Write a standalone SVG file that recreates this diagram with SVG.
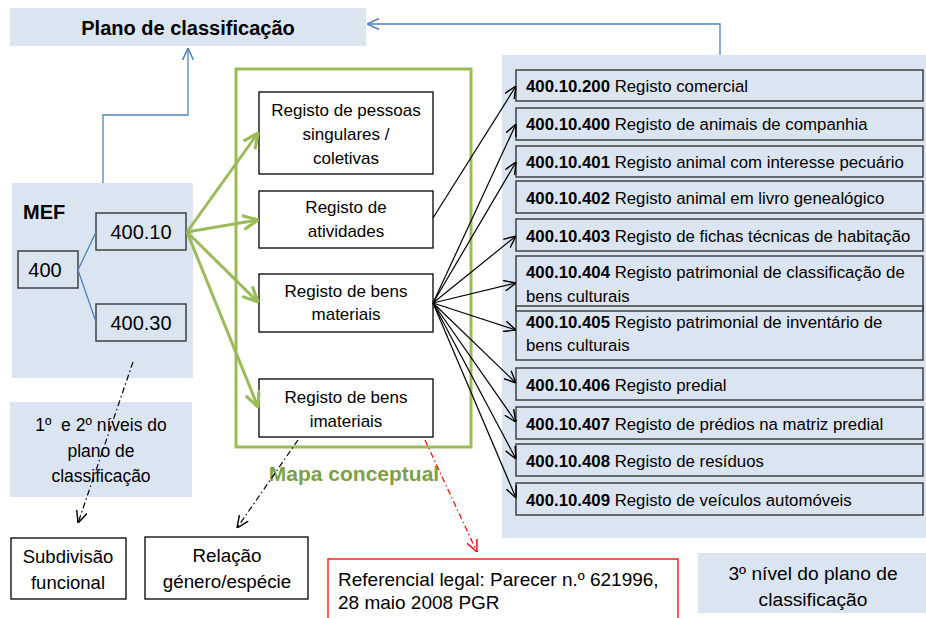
<svg xmlns="http://www.w3.org/2000/svg" width="926" height="618" viewBox="0 0 926 618">
<style>
text{font-family:"Liberation Sans",Arial,sans-serif;fill:#000}
.panel{fill:#dbe5f1}
.box{fill:#fff;stroke:#000;stroke-width:1.3}
.gbox{fill:none;stroke:#404040;stroke-width:1.5}
.mbox{fill:#dbe5f1;stroke:#404040;stroke-width:1.5}
.mid{font-size:17px;text-anchor:middle}
.li{font-size:16.8px}
.b{font-weight:bold}
.blue{fill:none;stroke:#4f81bd;stroke-width:1.3}
.green{fill:none;stroke:#9bbb59;stroke-width:3}
.blk{fill:none;stroke:#000;stroke-width:1.2}
.dd{fill:none;stroke:#000;stroke-width:1.2;stroke-dasharray:6 3 1.5 3}
.rd{fill:none;stroke:#ff0000;stroke-width:1.2;stroke-dasharray:6 3 1.5 3}
</style>
<defs>
<marker id="aBlk" markerUnits="userSpaceOnUse" markerWidth="12" markerHeight="12" viewBox="0 0 10 10" refX="10" refY="5" orient="auto"><path d="M0,0.5 L10,5 L0,9.5" fill="none" stroke="#000" stroke-width="1.2"/></marker>
<marker id="aBlue" markerUnits="userSpaceOnUse" markerWidth="12" markerHeight="12" viewBox="0 0 10 10" refX="10" refY="5" orient="auto"><path d="M0,0.5 L10,5 L0,9.5" fill="none" stroke="#4f81bd" stroke-width="1.3"/></marker>
<marker id="aGreen" markerUnits="userSpaceOnUse" markerWidth="16" markerHeight="16" viewBox="0 0 10 10" refX="9.5" refY="5" orient="auto"><path d="M0,0.5 L9.5,5 L0,9.5" fill="none" stroke="#9bbb59" stroke-width="2"/></marker>
<marker id="aRed" markerUnits="userSpaceOnUse" markerWidth="12" markerHeight="12" viewBox="0 0 10 10" refX="10" refY="5" orient="auto"><path d="M0,0.5 L10,5 L0,9.5" fill="none" stroke="#ff0000" stroke-width="1.2"/></marker>
</defs>

<g id="title">
<rect class="panel" x="10" y="8" width="356" height="38"/>
<text x="188" y="35" font-size="20" font-weight="bold" text-anchor="middle">Plano de classificação</text>
</g>

<g id="mef">
<rect class="panel" x="12" y="183" width="181" height="195"/>
<text x="23" y="219" font-size="20" font-weight="bold">MEF</text>
</g>
<g id="n400"><rect class="mbox" x="18" y="251" width="60" height="37"/><text x="45" y="277" font-size="20" text-anchor="middle">400</text></g>
<g id="n40010"><rect class="mbox" x="96" y="213" width="90" height="37"/><text x="141" y="239" font-size="20" text-anchor="middle">400.10</text></g>
<g id="n40030"><rect class="mbox" x="96" y="304" width="90" height="37"/><text x="141" y="330" font-size="20" text-anchor="middle">400.30</text></g>

<g id="mapa">
<rect x="236" y="69" width="235" height="378" fill="none" stroke="#9bbb59" stroke-width="3"/>
<text x="354" y="481" font-size="21" font-weight="bold" text-anchor="middle" style="fill:#7f9f45">Mapa conceptual</text>
</g>
<g id="pessoas"><rect class="box" x="259" y="92" width="174" height="82"/>
<text class="mid" x="346" y="116">Registo de pessoas</text><text class="mid" x="346" y="140">singulares /</text><text class="mid" x="346" y="164">coletivas</text></g>
<g id="atividades"><rect class="box" x="259" y="191" width="174" height="57"/>
<text class="mid" x="346" y="213">Registo de</text><text class="mid" x="346" y="237">atividades</text></g>
<g id="materiais"><rect class="box" x="259" y="274" width="174" height="58"/>
<text class="mid" x="346" y="297">Registo de bens</text><text class="mid" x="346" y="320">materiais</text></g>
<g id="imateriais"><rect class="box" x="259" y="379" width="174" height="58"/>
<text class="mid" x="346" y="403">Registo de bens</text><text class="mid" x="346" y="427">imateriais</text></g>

<g id="nivel3panel"><rect class="panel" x="502" y="55" width="424" height="483"/></g>
<g id="r200"><rect class="gbox" x="516" y="70" width="407" height="31"/><text class="li" x="526" y="92"><tspan class="b">400.10.200</tspan> Registo comercial</text></g>
<g id="r400"><rect class="gbox" x="516" y="108" width="407" height="32"/><text class="li" x="526" y="130"><tspan class="b">400.10.400</tspan> Registo de animais de companhia</text></g>
<g id="r401"><rect class="gbox" x="516" y="146" width="407" height="31"/><text class="li" x="526" y="168"><tspan class="b">400.10.401</tspan> Registo animal com interesse pecuário</text></g>
<g id="r402"><rect class="gbox" x="516" y="181" width="407" height="32"/><text class="li" x="526" y="204"><tspan class="b">400.10.402</tspan> Registo animal em livro genealógico</text></g>
<g id="r403"><rect class="gbox" x="516" y="219" width="407" height="32"/><text class="li" x="526" y="242"><tspan class="b">400.10.403</tspan> Registo de fichas técnicas de habitação</text></g>
<g id="r404"><rect class="gbox" x="516" y="256" width="407" height="55"/><text class="li" x="526" y="278"><tspan class="b">400.10.404</tspan> Registo patrimonial de classificação de</text><text class="li" x="526" y="302">bens culturais</text></g>
<g id="r405"><rect class="gbox" x="516" y="306" width="407" height="54"/><text class="li" x="526" y="328"><tspan class="b">400.10.405</tspan> Registo patrimonial de inventário de</text><text class="li" x="526" y="351">bens culturais</text></g>
<g id="r406"><rect class="gbox" x="516" y="368" width="407" height="32"/><text class="li" x="526" y="391"><tspan class="b">400.10.406</tspan> Registo predial</text></g>
<g id="r407"><rect class="gbox" x="516" y="407" width="407" height="32"/><text class="li" x="526" y="430"><tspan class="b">400.10.407</tspan> Registo de prédios na matriz predial</text></g>
<g id="r408"><rect class="gbox" x="516" y="444" width="407" height="32"/><text class="li" x="526" y="467"><tspan class="b">400.10.408</tspan> Registo de resíduos</text></g>
<g id="r409"><rect class="gbox" x="516" y="483" width="407" height="32"/><text class="li" x="526" y="506"><tspan class="b">400.10.409</tspan> Registo de veículos automóveis</text></g>

<g id="niveis12"><rect class="panel" x="10" y="402" width="182" height="95"/>
<text x="101" y="431" font-size="17.5" text-anchor="middle" xml:space="preserve">1º  e 2º níveis do</text>
<text x="101" y="457" font-size="17.5" text-anchor="middle">plano de</text>
<text x="101" y="482" font-size="17.5" text-anchor="middle">classificação</text></g>
<g id="subdivisao"><rect class="box" x="11" y="538" width="115" height="61"/>
<text x="68" y="563" font-size="18.5" text-anchor="middle">Subdivisão</text><text x="68" y="589" font-size="18.5" text-anchor="middle">funcional</text></g>
<g id="relacao"><rect class="box" x="145" y="537" width="163" height="62"/>
<text x="227" y="562" font-size="18.8" text-anchor="middle">Relação</text><text x="227" y="588" font-size="18.8" text-anchor="middle">género/espécie</text></g>
<g id="referencial"><rect x="328" y="559" width="350" height="70" fill="#fff" stroke="#ff0000" stroke-width="1.3"/>
<text x="338" y="586" font-size="19">Referencial legal: Parecer n.º 621996,</text><text x="338" y="609" font-size="19">28 maio 2008 PGR</text></g>
<g id="nivel3"><rect class="panel" x="698" y="553" width="228" height="60"/>
<text x="813" y="580" font-size="19.2" text-anchor="middle">3º nível do plano de</text><text x="813" y="606" font-size="19.2" text-anchor="middle">classificação</text></g>

<g id="connectors">
<path class="blue" d="M720,55 V24 H367" marker-end="url(#aBlue)"/>
<path class="blue" d="M103,183 V115 H188 V48" marker-end="url(#aBlue)"/>
<path class="blue" d="M78,270 L96,232 M78,270 L96,322"/>
<path class="green" d="M187,232 L258,133" marker-end="url(#aGreen)"/>
<path class="green" d="M187,232 L258,220" marker-end="url(#aGreen)"/>
<path class="green" d="M187,232 L258,302" marker-end="url(#aGreen)"/>
<path class="green" d="M187,232 L258,407" marker-end="url(#aGreen)"/>
<path class="blk" d="M433,218 L516,86" marker-end="url(#aBlk)"/>
<path class="blk" d="M433,303 L516,124" marker-end="url(#aBlk)"/>
<path class="blk" d="M433,303 L516,162" marker-end="url(#aBlk)"/>
<path class="blk" d="M433,303 L516,236" marker-end="url(#aBlk)"/>
<path class="blk" d="M433,303 L516,283" marker-end="url(#aBlk)"/>
<path class="blk" d="M433,303 L516,330" marker-end="url(#aBlk)"/>
<path class="blk" d="M433,303 L516,383" marker-end="url(#aBlk)"/>
<path class="blk" d="M433,303 L516,422" marker-end="url(#aBlk)"/>
<path class="blk" d="M433,303 L516,459" marker-end="url(#aBlk)"/>
<path class="blk" d="M433,303 L516,498" marker-end="url(#aBlk)"/>
<path class="dd" d="M133,362 L78,523" marker-end="url(#aBlk)"/>
<path class="dd" d="M298,440 L237,528" marker-end="url(#aBlk)"/>
<path class="rd" d="M425,440 L477,552" marker-end="url(#aRed)"/>
</g>
</svg>
